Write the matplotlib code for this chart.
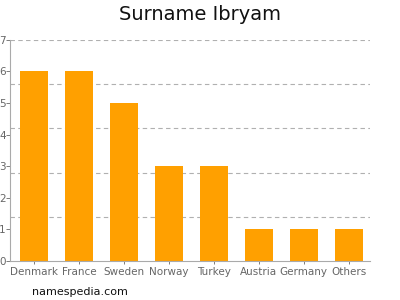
import matplotlib
matplotlib.use('Agg')
import matplotlib.pyplot as plt
import numpy as np

countries = ['Denmark', 'France', 'Sweden', 'Norway', 'Turkey', 'Austria', 'Germany', 'Others']
counts = [6, 6, 5, 3, 3, 1, 1, 1]
y_ticks = [0, 1, 2, 3, 4, 5, 6, 7]
grid_levels = [1.4, 2.8, 4.2, 5.6, 7.0]

plt.rcParams['font.family'] = ['DejaVu Sans']

fig = plt.figure(figsize=(4, 3), dpi=100)
ax = fig.add_axes([0.025, 0.13, 0.9, 0.737])

x = np.arange(len(countries))
ax.bar(x, counts, width=0.62, color='#ffa000', zorder=2)

for g in grid_levels:
    ax.axhline(g, color='#b0b0b0', linestyle=(0, (4, 3)), linewidth=0.8, zorder=1)

ax.set_xlim(-0.53, 7.47)
ax.set_ylim(0, 7)
ax.set_yticks(y_ticks)
ax.set_xticks(x)
ax.set_xticklabels(countries)
ax.tick_params(axis='y', colors='#666666', labelsize=7.5, length=3, width=0.6, pad=0)
ax.tick_params(axis='x', colors='#666666', labelsize=7.5, length=2, width=0.6, pad=2)
for lab in ax.get_xticklabels() + ax.get_yticklabels():
    lab.set_color('#666666')

for side in ['top', 'right']:
    ax.spines[side].set_visible(False)
for side in ['left', 'bottom']:
    ax.spines[side].set_color('#aaaaaa')
    ax.spines[side].set_linewidth(0.8)

fig.text(0.5, 0.95, 'Surname Ibryam', ha='center', va='center', fontsize=14, color='#111111')
fig.text(0.08, 0.028, 'namespedia.com', ha='left', va='center', fontsize=8, color='#111111')

fig.savefig('out.png', dpi=100)
